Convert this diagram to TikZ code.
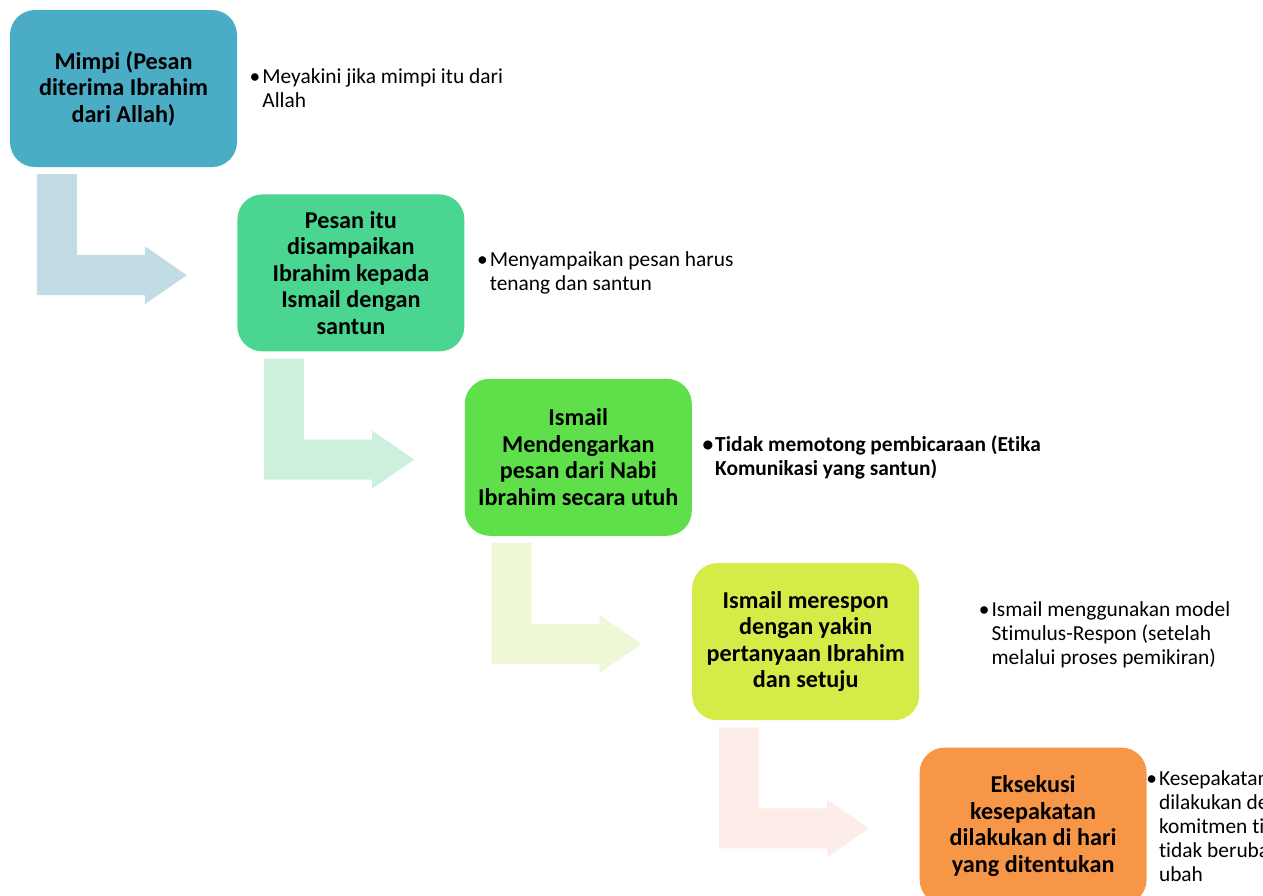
\documentclass[tikz,border=0pt]{standalone}
\usepackage{fontspec}
\setmainfont{Carlito}[Ligatures=NoCommon]
\usetikzlibrary{positioning}

\definecolor{mimpiblue}{HTML}{4BACC6}
\definecolor{pesangreen}{HTML}{4AD591}
\definecolor{dengargreen}{HTML}{5FE04B}
\definecolor{responlime}{HTML}{D5EB48}
\definecolor{eksekusiorange}{HTML}{F79646}
\definecolor{arrblue}{HTML}{C1DCE5}
\definecolor{arrgreen}{HTML}{CDF0DC}
\definecolor{arrlime}{HTML}{EEF8D6}
\definecolor{arrpink}{HTML}{FCEDE8}

\begin{document}
\begin{tikzpicture}[x=1pt, y=1pt,
    stepbox/.style={rounded corners=25pt, minimum width=227pt, minimum height=157pt, inner sep=4pt, align=center, font=\fontsize{24.2}{26.5}\selectfont\bfseries},
    note/.style={inner sep=0pt, align=left, font=\fontsize{21.4}{24}\selectfont}]
    \useasboundingbox (0,0) rectangle (1263,-895);
    \clip (0,0) rectangle (1263,-895);

    % steps of the dialogue
    \node (box1) [stepbox, fill=mimpiblue] at (123.5,-88.5) {Mimpi (Pesan\\diterima Ibrahim\\dari Allah)};
    \node (box2) [stepbox, fill=pesangreen, below right=27pt and 0pt of box1] {Pesan itu\\disampaikan\\Ibrahim kepada\\Ismail dengan\\santun};
    \node (box3) [stepbox, fill=dengargreen, below right=27pt and 0pt of box2] {Ismail\\Mendengarkan\\pesan dari Nabi\\Ibrahim secara utuh};
    \node (box4) [stepbox, fill=responlime, below right=27pt and 0pt of box3] {Ismail merespon\\dengan yakin\\pertanyaan Ibrahim\\dan setuju};
    \node (box5) [stepbox, fill=eksekusiorange, below right=27pt and 0pt of box4] {Eksekusi\\kesepakatan\\dilakukan di hari\\yang ditentukan};

    % bullet notes
    \node (note1) [note, right=25pt of box1] {\llap{\textbullet\hspace{2pt}}Meyakini jika mimpi itu dari\\Allah};
    \node (note2) [note, right=25pt of box2] {\llap{\textbullet\hspace{2pt}}Menyampaikan pesan harus\\tenang dan santun};
    \node (note3) [note, right=23pt of box3, font=\fontsize{21.4}{24}\selectfont\bfseries] {\llap{\textbullet\hspace{2pt}}Tidak memotong pembicaraan (Etika\\Komunikasi yang santun)};
    \node (note4) [note, right=72pt of box4, yshift=6.5pt] {\llap{\textbullet\hspace{2pt}}Ismail menggunakan model\\Stimulus-Respon (setelah\\melalui proses pemikiran)};
    \node (note5) [note, right=12pt of box5] {\llap{\textbullet\hspace{2pt}}Kesepakatan\\dilakukan dengan\\komitmen tinggi\\tidak berubah-\\ubah};

    % bent arrows between the steps
    \fill[arrblue, shift={(box1.south west)}] (27,-7) -- (67,-7) -- (67,-88) -- (135,-88) -- (135,-79) -- (177,-108) -- (135,-137) -- (135,-128) -- (27,-128) -- cycle;
    \fill[arrgreen, shift={(box2.south west)}] (27,-7) -- (67,-7) -- (67,-88) -- (135,-88) -- (135,-79) -- (177,-108) -- (135,-137) -- (135,-128) -- (27,-128) -- cycle;
    \fill[arrlime, shift={(box3.south west)}] (27,-7) -- (67,-7) -- (67,-88) -- (135,-88) -- (135,-79) -- (177,-108) -- (135,-137) -- (135,-128) -- (27,-128) -- cycle;
    \fill[arrpink, shift={(box4.south west)}] (27,-7) -- (67,-7) -- (67,-88) -- (135,-88) -- (135,-79) -- (177,-108) -- (135,-137) -- (135,-128) -- (27,-128) -- cycle;
\end{tikzpicture}
\end{document}
